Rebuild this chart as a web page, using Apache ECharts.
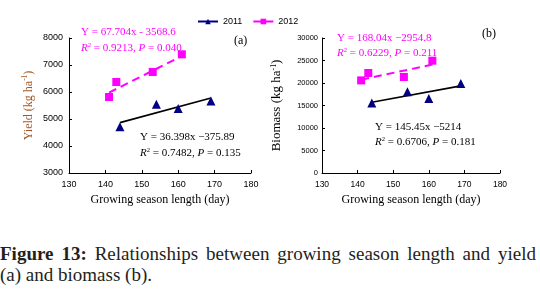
<!DOCTYPE html>
<html>
<head>
<meta charset="utf-8">
<script src="https://cdn.jsdelivr.net/npm/echarts@6/dist/echarts.min.js"></script>
<style>
  body { margin: 0; background: #fff; }
  #chart { width: 540px; height: 232px; }
  .caption {
    position: absolute; left: 0; top: 243px; width: 536px;
    font-family: 'Liberation Serif', serif; font-size: 19px; line-height: 21px;
    color: #231f20;
  }
  .caption .l1 { text-align: justify; text-align-last: justify; }
  .caption b { font-weight: bold; }
</style>
</head>
<body>
<div id="chart"></div>
<div class="caption">
  <div class="l1"><b>Figure 13:</b> Relationships between growing season length and yield</div>
  <div>(a) and biomass (b).</div>
</div>
<script>
// values
const years = ['2011', '2012']
const days2011 = [144, 154, 160, 169]
const days2012 = [141, 143, 153, 161]
const yield2011 = [4715, 5545, 5385, 5665]
const yield2012 = [5815, 6370, 6740, 7395]
const biomass2011 = [15560, 18070, 16580, 19910]
const biomass2012 = [20580, 22220, 21330, 24960]
// regression lines [slope, intercept] as printed on the figure
const yieldFit2011 = [36.398, -375.89]
const yieldFit2012 = [67.704, -3568.6]
const biomassFit2011 = [145.45, -5214]
const biomassFit2012 = [168.04, -2954.8]

const navy = '#000080'
const pink = '#ff00ff'
const serif = 'Liberation Serif'

const pairs = (xs, ys) => xs.map((x, i) => [x, ys[i]])
const fitLine = (xs, fit) => {
  const lo = Math.min(...xs), hi = Math.max(...xs)
  return [[lo, fit[0] * lo + fit[1]], [hi, fit[0] * hi + fit[1]]]
}

const supRich = (color, size) => ({
  n: {fontFamily: serif, fontSize: size, color: color},
  s: {fontFamily: serif, fontSize: size * 0.6, color: color, padding: [0, 0, size * 0.5, 0]},
  i: {fontFamily: serif, fontSize: size, color: color, fontStyle: 'italic'},
})

const xAxisBase = (gridIndex, labelSize) => ({
  type: 'value', gridIndex: gridIndex, min: 130, max: 180, interval: 10,
  name: 'Growing season length (day)', nameLocation: 'middle', nameGap: 21,
  nameTextStyle: {fontFamily: serif, fontSize: 12, color: '#000'},
  axisLine: {show: true, onZero: false, lineStyle: {color: '#000', width: 1}},
  axisTick: {show: true, inside: true, length: 3, lineStyle: {color: '#000'}},
  axisLabel: {fontFamily: 'Liberation Sans', fontSize: labelSize, color: '#000', margin: 7},
  splitLine: {show: false},
})

const yAxisBase = (gridIndex, min, max, interval, labelSize, margin) => ({
  type: 'value', gridIndex: gridIndex, min: min, max: max, interval: interval,
  nameLocation: 'middle',
  axisLine: {show: true, lineStyle: {color: '#000', width: 1}},
  axisTick: {show: true, inside: true, length: 3, lineStyle: {color: '#000'}},
  axisLabel: {
    fontFamily: 'Liberation Sans', fontSize: labelSize, color: '#000', margin: margin,
    formatter: (v) => String(v),
  },
  splitLine: {show: false},
})

const pointSeries = (name, xi, data, symbol, color, size) => ({
  name: name, type: 'line', xAxisIndex: xi, yAxisIndex: xi, data: data,
  symbol: symbol, symbolSize: size, showSymbol: true,
  itemStyle: {color: color},
  lineStyle: {opacity: 0},
  z: 3, silent: true,
})

const trendSeries = (xi, data, color, dashed) => ({
  type: 'line', xAxisIndex: xi, yAxisIndex: xi, data: data,
  symbol: 'none', silent: true, z: 2,
  lineStyle: {color: color, width: dashed ? 2 : 1.6, type: dashed ? [8, 5] : 'solid'},
})

const label = (left, top, text, color, size) => ({
  type: 'text', left: left, top: top,
  style: {text: text, rich: supRich(color, size), fill: color, font: size + 'px ' + serif},
})

const chart = echarts.init(document.getElementById('chart'))
chart.setOption({
  animation: false,
  backgroundColor: '#fff',
  legend: {
    left: 192, top: 12, itemWidth: 20, itemHeight: 7, itemGap: 10,
    textStyle: {fontFamily: 'Liberation Sans', fontSize: 9, color: '#000'},
    data: [
      {name: years[0], itemStyle: {color: navy}, lineStyle: {color: navy, width: 2, opacity: 1}},
      {name: years[1], itemStyle: {color: pink}, lineStyle: {color: pink, width: 2, opacity: 1}},
    ],
  },
  grid: [
    {left: 69, top: 38, width: 182, height: 135},
    {left: 322, top: 38, width: 178, height: 135},
  ],
  xAxis: [xAxisBase(0, 9), xAxisBase(1, 8.5)],
  yAxis: [
    Object.assign(yAxisBase(0, 3000, 8000, 1000, 9, 6), {
      name: '{n|Yield (kg ha}{s|-1}{n|)}', nameGap: 34,
      nameTextStyle: {rich: supRich('#a5582a', 12)},
    }),
    Object.assign(yAxisBase(1, 0, 30000, 5000, 7.5, 4), {
      name: '{n|Biomass (kg ha}{s|-1}{n|)}', nameGap: 38,
      nameTextStyle: {rich: supRich('#000', 13)},
    }),
  ],
  graphic: [
    label(81, 27, '{n|Y = 67.704x - 3568.6}', pink, 11),
    label(81, 42, '{i|R}{s|2}{n| = 0.9213, }{i|P}{n| = 0.040}', pink, 11),
    label(234, 35, '{n|(a)}', '#000', 12),
    label(140, 132, '{n|Y = 36.398x −375.89}', '#000', 11),
    label(140, 147, '{i|R}{s|2}{n| = 0.7482, }{i|P}{n| = 0.135}', '#000', 11),
    label(337, 33, '{n|Y = 168.04x −2954.8}', pink, 11),
    label(337, 47, '{i|R}{s|2}{n| = 0.6229, }{i|P}{n| = 0.211}', pink, 11),
    label(482, 28, '{n|(b)}', '#000', 12),
    label(375, 122, '{n|Y = 145.45x −5214}', '#000', 11),
    label(375, 136, '{i|R}{s|2}{n| = 0.6706, }{i|P}{n| = 0.181}', '#000', 11),
  ],
  series: [
    pointSeries(years[0], 0, pairs(days2011, yield2011), 'triangle', navy, 9),
    pointSeries(years[1], 0, pairs(days2012, yield2012), 'rect', pink, 8),
    trendSeries(0, fitLine(days2011, yieldFit2011), '#000', false),
    trendSeries(0, fitLine(days2012, yieldFit2012), pink, true),
    pointSeries(years[0], 1, pairs(days2011, biomass2011), 'triangle', navy, 9),
    pointSeries(years[1], 1, pairs(days2012, biomass2012), 'rect', pink, 8),
    trendSeries(1, fitLine(days2011, biomassFit2011), '#000', false),
    trendSeries(1, fitLine(days2012, biomassFit2012), pink, true),
  ],
})
</script>
</body>
</html>
